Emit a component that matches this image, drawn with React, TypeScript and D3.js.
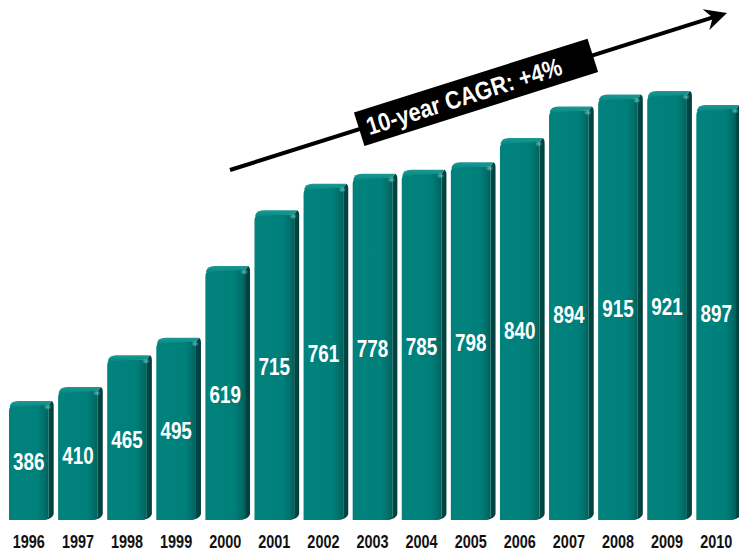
import React from "react";
import * as d3 from "d3";

const years = ["1996","1997","1998","1999","2000","2001","2002","2003","2004","2005","2006","2007","2008","2009","2010"];
const values = [386, 410, 465, 495, 619, 715, 761, 778, 785, 798, 840, 894, 915, 921, 897];
const cagrLabel = "10-year CAGR: +4%";

const W = 739, H = 552;
const FONT = "'Liberation Sans', Arial, Helvetica, sans-serif";

export default function App() {
  const x = d3.scaleBand<string>().domain(years).range([9, 741]).paddingInner(0.09).paddingOuter(0);
  const y = d3.scaleLinear().domain([0, 1000]).range([628.6, 49.2]);
  const base = 520;
  const bw = x.bandwidth();
  const side = 5;
  const rise = 4;
  const fw = bw - side;

  // arrow geometry (annotation)
  const ax0 = 230, ay0 = 170, ax1 = 727, ay1 = 13;
  const ang = Math.atan2(ay1 - ay0, ax1 - ax0);
  const angDeg = (ang * 180) / Math.PI;
  const cx = 476, cy = ay0 + (cx - ax0) * Math.tan(ang);
  const boxW = 245, boxH = 35;

  return (
    <svg width={W} height={H} style={{ position: "absolute", left: 0, top: 0 }}>
      <defs>
        <linearGradient id="front" x1="0" x2="1" y1="0" y2="0">
          <stop offset="0" stopColor="#067f7a" />
          <stop offset="0.05" stopColor="#01827d" />
          <stop offset="0.72" stopColor="#00807b" />
          <stop offset="0.9" stopColor="#006f6a" />
          <stop offset="1" stopColor="#005f5a" />
        </linearGradient>
        <linearGradient id="side" x1="0" x2="1" y1="0" y2="0">
          <stop offset="0" stopColor="#00524e" />
          <stop offset="1" stopColor="#003f3c" />
        </linearGradient>
        <linearGradient id="top" x1="0" x2="0" y1="1" y2="0">
          <stop offset="0" stopColor="#058a84" />
          <stop offset="1" stopColor="#1f9893" />
        </linearGradient>
        <radialGradient id="hl" cx="0.5" cy="0.5" r="0.5">
          <stop offset="0" stopColor="#5fc7c1" stopOpacity="0.9" />
          <stop offset="1" stopColor="#5fc7c1" stopOpacity="0" />
        </radialGradient>
      </defs>
      <rect width={W} height={H} fill="#ffffff" />
      {years.map((yr, i) => {
        const x0 = x(yr)!;
        const yt = y(values[i]);
        const x1 = x0 + fw;
        const r = 6;
        const frontPath = `M${x0},${base} L${x0},${yt + r} Q${x0},${yt} ${x0 + r},${yt} L${x1},${yt} L${x1},${base - 3} Q${x1 - 1},${base} ${x1 - 5},${base} Z`;
        const sidePath = `M${x1},${yt} L${x1 + side - 2},${yt - rise} Q${x1 + side},${yt - rise + 1} ${x1 + side},${yt - rise + 5} L${x1 + side},${base - rise - 2} Q${x1 + side - 1},${base - 1} ${x1 - 5},${base} L${x1},${base - 3} Z`;
        const topPath = `M${x0 + 0.5},${yt + 2} Q${x0 + 1.5},${yt - rise} ${x0 + r + 3},${yt - rise} L${x1 + side - 2},${yt - rise} L${x1},${yt} Z`;
        return (
          <g key={yr}>
            <path d={sidePath} fill="url(#side)" />
            <path d={frontPath} fill="url(#front)" />
            <path d={topPath} fill="url(#top)" />
            <ellipse cx={x1 - 1} cy={yt + 2} rx={4} ry={3} fill="url(#hl)" />
            <text
              transform={`translate(${x0 + fw / 2},${(yt + base) / 2 + 8}) scale(0.82,1)`}
              textAnchor="middle"
              fill="#ffffff"
              fontFamily={FONT}
              fontWeight="bold"
              fontSize={23}
            >
              {values[i]}
            </text>
            <text
              transform={`translate(${x0 + fw / 2},${548}) scale(0.78,1)`}
              textAnchor="middle"
              fill="#111111"
              fontFamily={FONT}
              fontWeight="bold"
              fontSize={18.5}
            >
              {yr}
            </text>
          </g>
        );
      })}
      <line x1={ax0} y1={ay0} x2={ax1 - 14 * Math.cos(ang)} y2={ay1 - 14 * Math.sin(ang)} stroke="#000" strokeWidth={4} />
      <g transform={`translate(${ax1},${ay1}) rotate(${angDeg})`}>
        <path d="M0,0 L-22,-11 L-15,0 L-22,11 Z" fill="#000" />
      </g>
      <g transform={`translate(${cx},${cy}) rotate(${angDeg})`}>
        <rect x={-boxW / 2} y={-boxH / 2} width={boxW} height={boxH} fill="#000" />
        <text
          transform={`translate(${-boxW / 2 + 8},9) scale(0.87,1)`}
          textAnchor="start"
          fill="#ffffff"
          fontFamily={FONT}
          fontWeight="bold"
          fontSize={25}
        >
          {cagrLabel}
        </text>
      </g>
    </svg>
  );
}
